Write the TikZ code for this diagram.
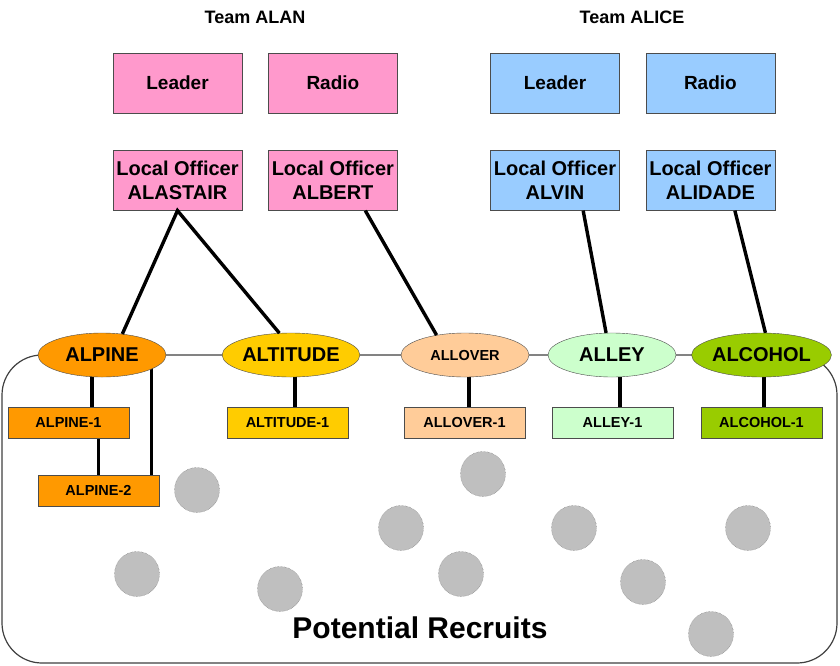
\documentclass[tikz,border=0pt]{standalone}
\usepackage{fontspec}
\setmainfont{Liberation Sans}
\usetikzlibrary{positioning,shapes.geometric,backgrounds,calc}

\definecolor{alanpink}{HTML}{FF99CC}
\definecolor{aliceblue}{HTML}{99CCFF}
\definecolor{alpinecol}{HTML}{FF9900}
\definecolor{altitudecol}{HTML}{FFCC00}
\definecolor{allovercol}{HTML}{FFCC99}
\definecolor{alleycol}{HTML}{CCFFCC}
\definecolor{alcoholcol}{HTML}{99CC00}

\begin{document}
\begin{tikzpicture}[
  x=1pt,y=-1pt,
  box/.style={draw=black!70,minimum width=129pt,minimum height=60pt,inner sep=0pt,align=center,font=\fontsize{19}{22}\selectfont\bfseries},
  officer/.style={box,font=\fontsize{20}{24}\selectfont\bfseries},
  grp/.style={ellipse,draw=black!70,minimum width=128pt,minimum height=44pt,inner sep=0pt,font=\fontsize{20}{24}\selectfont\bfseries},
  cell/.style={draw=black!70,minimum width=121pt,minimum height=31pt,inner sep=0pt,font=\fontsize{14.5}{16}\selectfont\bfseries},
  recruit/.style={circle,draw=black!60,densely dotted,fill=black!25,minimum size=45pt,inner sep=0pt},
  link/.style={line width=3.4pt},
  team/.style={font=\fontsize{18}{20}\selectfont\bfseries},
  node distance=37pt and 26pt
]
\useasboundingbox (0,0) rectangle (840,665);

% team ALAN
\node[team] (teamA) at (255,17) {Team ALAN};
\node[box,fill=alanpink] (leadA) at (177.5,83) {Leader};
\node[box,fill=alanpink,right=of leadA] (radioA) {Radio};
\node[officer,fill=alanpink,below=of leadA] (lofA) {Local Officer\\ALASTAIR};
\node[officer,fill=alanpink,below=of radioA] (lofB) {Local Officer\\ALBERT};

% team ALICE
\node[team] (teamB) at (632,17) {Team ALICE};
\node[box,fill=aliceblue] (leadB) at (555,83) {Leader};
\node[box,fill=aliceblue,right=of leadB] (radioB) {Radio};
\node[officer,fill=aliceblue,below=of leadB] (lofC) {Local Officer\\ALVIN};
\node[officer,fill=aliceblue,below=of radioB] (lofD) {Local Officer\\ALIDADE};

% groups
\node[grp,fill=alpinecol] (alpine) at (102,355) {ALPINE};
\node[grp,fill=altitudecol] (altitude) at (291,355) {ALTITUDE};
\node[grp,fill=allovercol,font=\fontsize{14.5}{16}\selectfont\bfseries] (allover) at (465,355) {ALLOVER};
\node[grp,fill=alleycol] (alley) at (612,355) {ALLEY};
\node[grp,fill=alcoholcol] (alcohol) at (761.5,355) {ALCOHOL};

\node[cell,fill=alpinecol] (alp1) at (68.5,422.5) {ALPINE-1};
\node[cell,fill=alpinecol] (alp2) at (98.5,490.5) {ALPINE-2};
\node[cell,fill=altitudecol] (alt1) at (287.5,422.5) {ALTITUDE-1};
\node[cell,fill=allovercol] (all1) at (464.5,422.5) {ALLOVER-1};
\node[cell,fill=alleycol] (aly1) at (612.5,422.5) {ALLEY-1};
\node[cell,fill=alcoholcol] (alc1) at (761.5,422.5) {ALCOHOL-1};

% recruits
\foreach \x/\y [count=\i] in {197/490,483/474,401/528,574/528,748/528,137/574,280/589,461/574,643/582,711/634}
  \node[recruit] (r\i) at (\x,\y) {};
\node[font=\fontsize{30}{34}\selectfont\bfseries] (pot) at (420,628) {Potential Recruits};

\draw[link] (alpine.46) -- (lofA.south) -- (altitude.118);
\draw[link] (lofB.-43) -- (allover.145);
\draw[link] (lofC.-47) -- (alley.105);
\draw[link] (lofD.-51) -- (alcohol.80);

\begin{scope}[on background layer]
  \draw[draw=black!75,line width=1.2pt,fill=white,rounded corners=40pt] (2,355) rectangle (837,663);
  \draw[link] (alpine) ++(-10,0) -- ++(0,52);
  \draw[link] (alp2.north east) ++(-8,0) -- ++(0,-120);
  \draw[link] (alp2.north) -- (alp2.north |- alp1.south);
  \draw[link] (altitude) ++(4,0) -- ++(0,52);
  \draw[link] (allover) ++(4,0) -- ++(0,52);
  \draw[link] (alley) ++(8,0) -- ++(0,52);
  \draw[link] (alcohol) ++(2.5,0) -- ++(0,52);
\end{scope}
\end{tikzpicture}
\end{document}
